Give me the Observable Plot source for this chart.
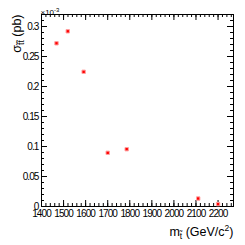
<!DOCTYPE html>
<html><head><meta charset="utf-8">
<script src="https://cdn.jsdelivr.net/npm/d3@7"></script>
<script src="https://cdn.jsdelivr.net/npm/@observablehq/plot@0.6"></script>
<style>body{margin:0;background:#fff;overflow:hidden}</style>
</head><body><div id="chart"></div>
<script>
// stop mass (GeV/c^2)
const masses = [1468, 1519, 1591, 1700, 1786, 2110, 2200];
// cross section in units of 1e-3 pb
const xsec = [0.272, 0.292, 0.2245, 0.0895, 0.0955, 0.0133, 0.004];
const xMajor = [1400, 1500, 1600, 1700, 1800, 1900, 2000, 2100, 2200];
const xMinor = d3.range(1400, 2270, 20);
const yMajor = [0, 0.05, 0.1, 0.15, 0.2, 0.25, 0.3];
const yMajorLabels = ["0", "0.05", "0.1", "0.15", "0.2", "0.25", "0.3"];
const yMinor = d3.range(0, 0.3201, 0.01);
const xTitle = "m_t (GeV/c^2)";
const yTitle = "sigma_tt (pb)";
const exponentLabel = "x10^-3";

const W = 245, H = 245, mL = 41, mR = 12, mT = 14, mB = 39;
const fw = W - mL - mR, fh = H - mT - mB;
const font = "'Liberation Sans', Arial, sans-serif";

const data = masses.map((m, i) => ({m, s: xsec[i]}));

const plot = Plot.plot({
  width: W, height: H,
  marginLeft: mL, marginRight: mR, marginTop: mT, marginBottom: mB,
  style: {fontFamily: font, background: "#fff", color: "#000"},
  x: {domain: [1400, 2270], axis: null},
  y: {domain: [0, 0.32], axis: null},
  marks: [
    // ticks (inward, on all four sides)
    Plot.tickX(xMinor, {x: d => d, insetTop: fh - 3, stroke: "#000"}),
    Plot.tickX(xMajor, {x: d => d, insetTop: fh - 6, stroke: "#000"}),
    Plot.tickX(xMinor, {x: d => d, insetBottom: fh - 3, stroke: "#000"}),
    Plot.tickX(xMajor, {x: d => d, insetBottom: fh - 6, stroke: "#000"}),
    Plot.tickY(yMinor, {y: d => d, insetRight: fw - 3, stroke: "#000"}),
    Plot.tickY(yMajor, {y: d => d, insetRight: fw - 6, stroke: "#000"}),
    Plot.tickY(yMinor, {y: d => d, insetLeft: fw - 3, stroke: "#000"}),
    Plot.tickY(yMajor, {y: d => d, insetLeft: fw - 6, stroke: "#000"}),
    Plot.frame({stroke: "#000"}),
    // tick labels
    Plot.text(xMajor, {x: d => d, frameAnchor: "bottom", dy: 3, lineAnchor: "top", text: d => String(d), fontSize: 10, fill: "#000"}),
    Plot.text(yMajor, {y: d => d, frameAnchor: "left", dx: -3, textAnchor: "end", text: (d, i) => yMajorLabels[i], fontSize: 10, fill: "#000"}),
    Plot.text([exponentLabel], {frameAnchor: "top-left", dx: -1, dy: -5, textAnchor: "start", fontSize: 8, fill: "#000"}),
    // axis titles
    Plot.text([xTitle], {frameAnchor: "bottom-right", dy: 29, textAnchor: "end", lineAnchor: "bottom", fontSize: 12.5, fill: "#000"}),
    Plot.text([yTitle], {frameAnchor: "top-left", dx: -29, rotate: -90, textAnchor: "end", fontSize: 12.5, fill: "#000"}),
    // data points
    Plot.dot(data, {x: "m", y: "s", symbol: "square", r: 1.9, fill: "#ff0000", stroke: "#ffa0a0", strokeWidth: 1})
  ]
});

document.getElementById("chart").appendChild(plot);

const svg = d3.select(plot);
// condensed tick labels (like the reference's narrow digits)
const tickTexts = new Set([...xMajor.map(String), ...yMajorLabels]);
svg.selectAll("text").filter(function() { return tickTexts.has(this.textContent); })
  .attr("letter-spacing", "-0.9px");

// rich text: subscripts / superscripts
function rich(content, parts) {
  svg.selectAll("text").filter(function() { return this.textContent === content; }).each(function() {
    const t = d3.select(this);
    t.text(null);
    let shift = 0;
    for (const [str, size, dy] of parts) {
      const ts = t.append("tspan").text(str);
      if (size) ts.attr("font-size", size);
      const d = dy - shift;
      if (d) ts.attr("dy", d);
      shift = dy;
    }
  });
}
rich(xTitle, [["m", null, 0], ["t\u0303", 8.5, 3], [" (GeV/c", null, 0], ["2", 8.5, -5], [")", null, 0]]);
rich(yTitle, [["\u03c3", null, 0], ["t\u0303t\u0303", 8.5, 3], [" (pb)", null, 0]]);
rich(exponentLabel, [["\u00d710", null, 0], ["-3", 6, -3]]);
</script>
</body></html>
